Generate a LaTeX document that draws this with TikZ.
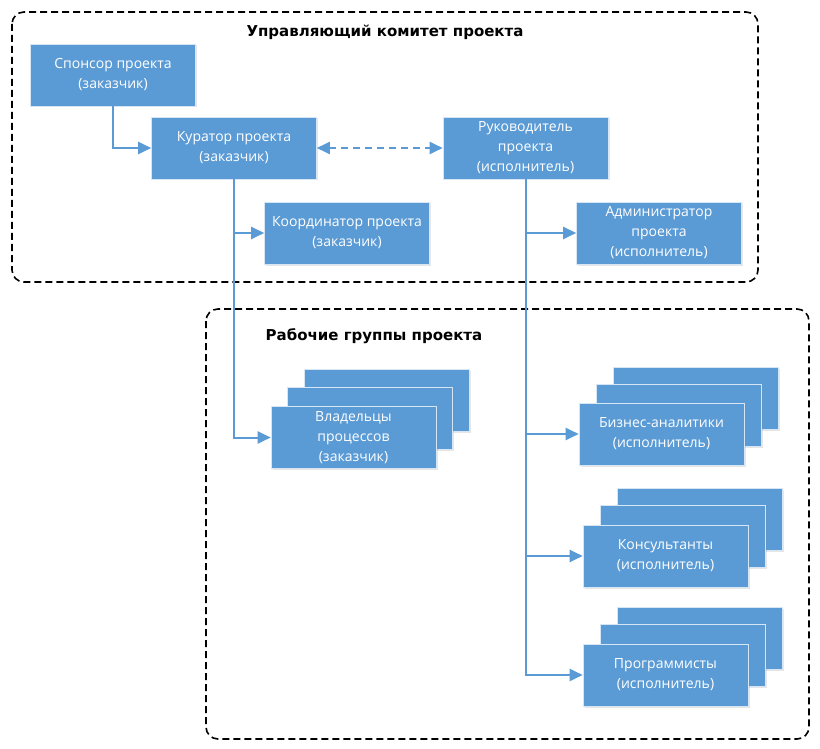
\documentclass[tikz,border=0pt]{standalone}
\usepackage{fontspec}
\setmainfont{Open Sans}
\newfontfamily\headfont{DejaVu Sans}
\usetikzlibrary{arrows.meta,shadows}
\definecolor{boxblue}{RGB}{91,155,213}

\begin{document}
\begin{tikzpicture}[x=1pt,y=-1pt,
  box/.style={fill=boxblue, draw=white!75!boxblue, line width=0.6pt, text=white,
    minimum width=165pt, minimum height=62pt, inner sep=0pt, align=center,
    font=\fontsize{14}{20}\selectfont,
    drop shadow={opacity=0.2, shadow xshift=1.5pt, shadow yshift=-1.5pt}},
  frame/.style={draw=black, dash pattern=on 7pt off 4pt, line width=1.6pt, rounded corners=12pt},
  title/.style={font=\headfont\bfseries\fontsize{15}{18}\selectfont},
  link/.style={draw=boxblue, line width=2pt, -{Triangle[length=13pt,width=12pt]}}]

\useasboundingbox (0,0) rectangle (820,749);

%Frames of the two groups
\draw[frame] (12,12) rectangle (758,282);
\draw[frame] (206,309) rectangle (809,739);
\node[title] (comtitle) at (385,32) {Управляющий комитет проекта};
\node[title] (grptitle) at (374,336) {Рабочие группы проекта};

%Committee
\node[box] (sponsor) at (113,75) {Спонсор проекта\\(заказчик)};
\node[box] (curator) at (234,148) {Куратор проекта\\(заказчик)};
\node[box] (coord) at (347,233) {Координатор проекта\\(заказчик)};
\node[box] (ruk) at (525.5,148) {Руководитель\\проекта\\(исполнитель)};
\node[box] (admin) at (659,233) {Администратор\\проекта\\(исполнитель)};

%Working groups (stacked)
\node[box] (owners3) at (387,400) {};
\node[box] (owners2) at (370,418.5) {};
\node[box] (owners) at (353.5,437.5) {Владельцы\\процессов\\(заказчик)};

\node[box] (biz3) at (695.5,398) {};
\node[box] (biz2) at (678.5,415) {};
\node[box] (biz) at (661.5,434) {Бизнес-аналитики\\(исполнитель)};

\node[box] (cons3) at (699.5,519) {};
\node[box] (cons2) at (682.5,536) {};
\node[box] (cons) at (665.5,556) {Консультанты\\(исполнитель)};

\node[box] (prog3) at (699.5,638) {};
\node[box] (prog2) at (682.5,655) {};
\node[box] (prog) at (665.5,675) {Программисты\\(исполнитель)};

%Links
\draw[link] (sponsor.south) |- (curator.west);
\draw[link] (curator.south) |- (coord.west);
\draw[link] (curator.south) |- (owners.west);
\draw[link, {Triangle[length=13pt,width=12pt]}-{Triangle[length=13pt,width=12pt]},
  dash pattern=on 7pt off 5pt] (curator.east) -- (ruk.west);
\draw[link] (ruk.south) |- (admin.west);
\draw[link] (ruk.south) |- (biz.west);
\draw[link] (ruk.south) |- (cons.west);
\draw[link] (ruk.south) |- (prog.west);

\end{tikzpicture}
\end{document}
